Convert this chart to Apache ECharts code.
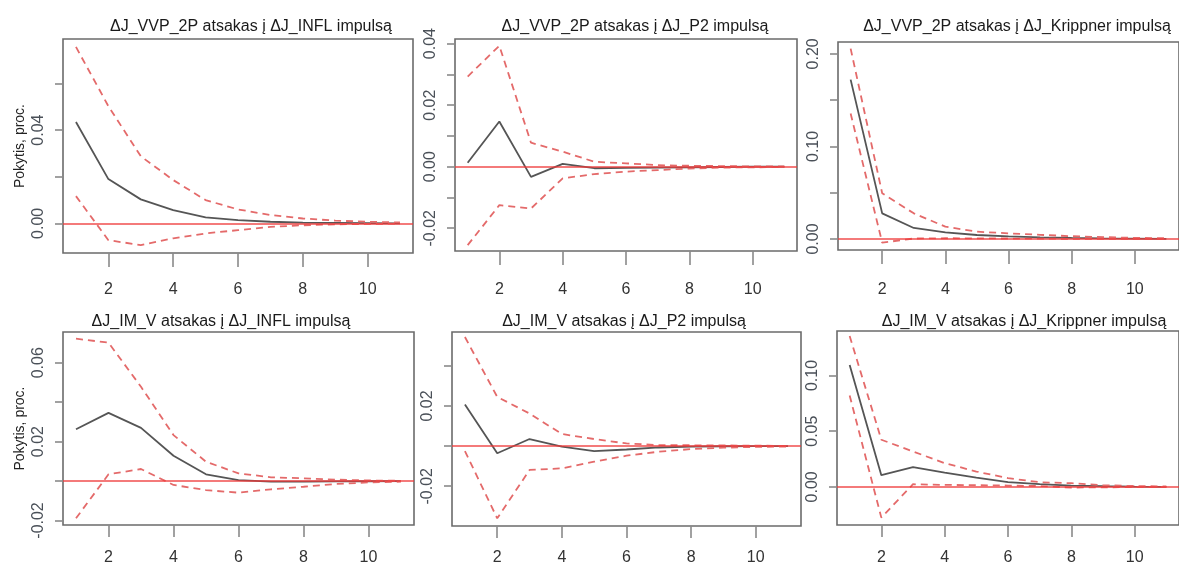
<!DOCTYPE html>
<html>
<head>
<meta charset="utf-8">
<script src="https://cdn.jsdelivr.net/npm/echarts@6/dist/echarts.min.js"></script>
<style>
html,body{margin:0;padding:0;background:#fff;}
#chart{width:1179px;height:566px;}
</style>
</head>
<body>
<div id="chart"></div>
<script>
// ---- data ----
const steps = [1,2,3,4,5,6,7,8,9,10,11];

const titles = [
  'ΔJ_VVP_2P atsakas į ΔJ_INFL impulsą',
  'ΔJ_VVP_2P atsakas į ΔJ_P2 impulsą',
  'ΔJ_VVP_2P atsakas į ΔJ_Krippner impulsą',
  'ΔJ_IM_V atsakas į ΔJ_INFL impulsą',
  'ΔJ_IM_V atsakas į ΔJ_P2 impulsą',
  'ΔJ_IM_V atsakas į ΔJ_Krippner impulsą'
];
const yAxisName = 'Pokytis, proc.';

const xTicks = [2,4,6,8,10];

const vvpInflIrf = [0.0435,0.019,0.0103,0.0057,0.0026,0.0014,0.0007,0.0003,0.0002,0.0001,0];
const vvpInflUp  = [0.0757,0.0503,0.0288,0.0186,0.010,0.006,0.0036,0.0021,0.0012,0.0007,0.0004];
const vvpInflLo  = [0.0117,-0.0072,-0.0093,-0.0064,-0.0043,-0.0029,-0.0015,-0.0008,-0.0004,-0.0002,-0.0001];

const vvpP2Irf = [0.0013,0.0147,-0.0033,0.0009,-0.0005,-0.0004,-0.0003,-0.0002,-0.0001,0,0];
const vvpP2Up  = [0.0293,0.0393,0.0078,0.0049,0.0016,0.0011,0.0005,0.0003,0.0002,0.0001,0.0001];
const vvpP2Lo  = [-0.0255,-0.0125,-0.0136,-0.0038,-0.0024,-0.0016,-0.0011,-0.0006,-0.0003,-0.0002,-0.0001];

const vvpKrIrf = [0.1722,0.0277,0.0119,0.0072,0.0043,0.0029,0.0018,0.0011,0.0007,0.0004,0.0002];
const vvpKrUp  = [0.2057,0.0493,0.0277,0.0133,0.0079,0.0061,0.0045,0.003,0.002,0.0012,0.0008];
const vvpKrLo  = [0.1356,-0.004,0.0005,0.0008,0.0007,0.0005,0.0004,0.0002,0.0001,0.0001,0];

const imInflIrf = [0.0263,0.0346,0.027,0.0128,0.0034,0.0005,-0.0003,-0.0003,-0.0002,-0.0001,0];
const imInflUp  = [0.0722,0.0702,0.0478,0.0233,0.0098,0.0039,0.0019,0.0014,0.0007,0.0003,0.0001];
const imInflLo  = [-0.0189,0.0034,0.0061,-0.002,-0.0046,-0.0059,-0.0042,-0.0029,-0.0015,-0.0007,-0.0003];

const imP2Irf = [0.0207,-0.0036,0.0035,-0.0003,-0.0025,-0.0017,-0.0007,-0.0003,-0.0001,0,0];
const imP2Up  = [0.0543,0.0245,0.0162,0.006,0.0035,0.0013,0.0005,0.0004,0.0003,0.0002,0.0001];
const imP2Lo  = [-0.0025,-0.036,-0.0119,-0.0111,-0.0078,-0.0048,-0.0028,-0.0015,-0.0008,-0.0004,-0.0002];

const imKrIrf = [0.1093,0.0105,0.0177,0.0129,0.0084,0.0042,0.0024,0.0012,0.0006,0.0003,0.0001];
const imKrUp  = [0.1354,0.0423,0.0318,0.0213,0.0138,0.0078,0.0042,0.0033,0.0015,0.0008,0.0004];
const imKrLo  = [0.082,-0.0276,0.0024,0.0018,0.0015,0.0012,0.0008,-0.0006,-0.0004,-0.0002,-0.0001];

// y tick positions and which of them carry labels
const yTicks1 = [0,0.02,0.04,0.06];            const yLabels1 = [0,0.04];
const yTicks2 = [-0.02,-0.01,0,0.01,0.02,0.03,0.04]; const yLabels2 = [-0.02,0,0.02,0.04];
const yTicks3 = [0,0.05,0.10,0.15,0.20];        const yLabels3 = [0,0.10,0.20];
const yTicks4 = [-0.02,0,0.02,0.04,0.06];       const yLabels4 = [-0.02,0.02,0.06];
const yTicks5 = [-0.02,0,0.02,0.04];            const yLabels5 = [-0.02,0.02];
const yTicks6 = [0,0.05,0.10];                  const yLabels6 = [0,0.05,0.10];

// ---- layout ----
const panels = [
  {t:titles[0], irf:vvpInflIrf, up:vvpInflUp, lo:vvpInflLo, yt:yTicks1, yl:yLabels1, name:true,
   grid:{left:63, top:39, width:350, height:214}, ymin:-0.0127, ymax:0.0791, tx:246, ty:14, xm:29, tick:14},
  {t:titles[1], irf:vvpP2Irf, up:vvpP2Up, lo:vvpP2Lo, yt:yTicks2, yl:yLabels2, name:false,
   grid:{left:455, top:39, width:342, height:212}, ymin:-0.0274, ymax:0.0415, tx:630, ty:14, xm:31, tick:14},
  {t:titles[2], irf:vvpKrIrf, up:vvpKrUp, lo:vvpKrLo, yt:yTicks3, yl:yLabels3, name:false,
   grid:{left:838, top:42, width:343, height:208}, ymin:-0.0119, ymax:0.2128, tx:1012, ty:14, xm:32, tick:14},
  {t:titles[3], irf:imInflIrf, up:imInflUp, lo:imInflLo, yt:yTicks4, yl:yLabels4, name:true,
   grid:{left:63, top:332, width:351, height:193}, ymin:-0.0223, ymax:0.0756, tx:216, ty:309, xm:25, tick:12},
  {t:titles[4], irf:imP2Irf, up:imP2Up, lo:imP2Lo, yt:yTicks5, yl:yLabels5, name:false,
   grid:{left:452, top:332, width:349, height:194}, ymin:-0.0398, ymax:0.0568, tx:619, ty:309, xm:24, tick:12},
  {t:titles[5], irf:imKrIrf, up:imKrUp, lo:imKrLo, yt:yTicks6, yl:yLabels6, name:false,
   grid:{left:837, top:331, width:344, height:194}, ymin:-0.0342, ymax:0.1399, tx:1019, ty:309, xm:25, tick:12}
];

const FONT = "'Liberation Sans', Arial, sans-serif";
const pairs = arr => steps.map((s,i)=>[s, arr[i]]);

const option = {
  animation:false,
  backgroundColor:'#ffffff',
  title:[], grid:[], xAxis:[], yAxis:[], series:[]
};

panels.forEach((p, i) => {
  option.title.push({
    text:p.t, left:p.tx, top:p.ty, textAlign:'center',
    textStyle:{fontFamily:FONT, fontSize:16, fontWeight:'normal', color:'#1a1a1a'}
  });
  option.grid.push(Object.assign({show:true, borderColor:'#6b6b6b', borderWidth:1.6, backgroundColor:'transparent'}, p.grid));
  option.xAxis.push({
    type:'value', gridIndex:i, min:0.6, max:11.4,
    axisLine:{show:false, onZero:false},
    splitLine:{show:false},
    axisTick:{show:true, length:p.tick, customValues:xTicks, lineStyle:{color:'#8a8a8a', width:1.6}},
    axisLabel:{show:true, customValues:xTicks, margin:p.xm, fontFamily:FONT, fontSize:16, color:'#333',
      formatter: v => String(v)}
  });
  option.yAxis.push({
    type:'value', gridIndex:i, min:p.ymin, max:p.ymax,
    name: p.name ? yAxisName : '', nameLocation:'middle', nameGap:36,
    nameTextStyle:{fontFamily:FONT, fontSize:14, color:'#222'},
    axisLine:{show:false, onZero:false},
    splitLine:{show:false},
    axisTick:{show:true, length:8, customValues:p.yt, lineStyle:{color:'#8a8a8a', width:1.6}},
    axisLabel:{show:true, customValues:p.yl, rotate:90, margin:16, fontFamily:FONT, fontSize:16, color:'#4a5058',
      formatter: v => v.toFixed(2)}
  });
  const dashed = {color:'#e46a6a', width:1.8, type:[7,5]};
  option.series.push({
    type:'line', xAxisIndex:i, yAxisIndex:i, data:pairs(p.up), symbol:'none', silent:true,
    lineStyle:dashed, z:3
  });
  option.series.push({
    type:'line', xAxisIndex:i, yAxisIndex:i, data:pairs(p.lo), symbol:'none', silent:true,
    lineStyle:dashed, z:3
  });
  option.series.push({
    type:'line', xAxisIndex:i, yAxisIndex:i, data:pairs(p.irf), symbol:'none', silent:true,
    lineStyle:{color:'#555555', width:1.8}, z:2,
    markLine:{silent:true, symbol:'none', label:{show:false},
      lineStyle:{color:'#ee3b3b', width:1.6, type:'solid', opacity:0.9},
      data:[{yAxis:0}]}
  });
});

const chart = echarts.init(document.getElementById('chart'), null, {renderer:'canvas'});
chart.setOption(option);
</script>
</body>
</html>
